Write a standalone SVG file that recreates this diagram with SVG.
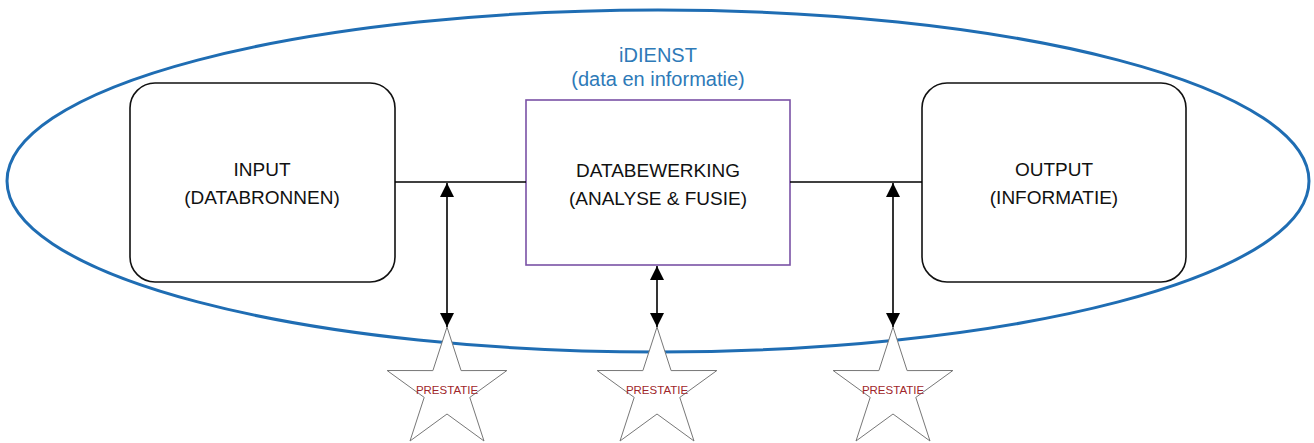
<svg xmlns="http://www.w3.org/2000/svg" width="1314" height="443" viewBox="0 0 1314 443">
<style>
.lbl{font-family:"Liberation Sans",Arial,sans-serif;font-size:19px;fill:#111;text-anchor:middle}
.blue{font-family:"Liberation Sans",Arial,sans-serif;font-size:20px;fill:#2e7ab8;text-anchor:middle}
.box{fill:#fff;stroke:#111;stroke-width:1.6}
.conn{stroke:#000;stroke-width:1.6;fill:none}
.star{fill:#fff;stroke:#777;stroke-width:1}
.perf{font-family:"Liberation Sans",Arial,sans-serif;font-size:11.5px;fill:#a0262a;text-anchor:middle}
</style>
<defs>
<marker id="ah" viewBox="0 0 10 10" refX="10" refY="5" markerWidth="14" markerHeight="14" markerUnits="userSpaceOnUse" orient="auto-start-reverse">
<path d="M0,0 L10,5 L0,10 z" fill="#000"/>
</marker>
<polygon id="starShape" points="0,-63 14.1,-19.4 59.9,-19.5 22.8,7.4 37,51 0,24 -37,51 -22.8,7.4 -59.9,-19.5 -14.1,-19.4"/>
</defs>
<rect width="1314" height="443" fill="#fff"/>
<g id="idienst">
<ellipse cx="658" cy="181" rx="651" ry="171" fill="none" stroke="#1f6db3" stroke-width="3"/>
<text class="blue" x="658" y="62">iDIENST</text>
<text class="blue" x="658" y="86">(data en informatie)</text>
</g>
<g id="input">
<rect class="box" x="130" y="83" width="265" height="199" rx="25"/>
<text class="lbl" x="262" y="176">INPUT</text>
<text class="lbl" x="262" y="204">(DATABRONNEN)</text>
</g>
<g id="databewerking">
<rect x="526" y="100" width="264" height="165" fill="#fff" stroke="#7a52a6" stroke-width="1.6"/>
<text class="lbl" x="658" y="177">DATABEWERKING</text>
<text class="lbl" x="658" y="205">(ANALYSE &amp; FUSIE)</text>
</g>
<g id="output">
<rect class="box" x="922" y="83" width="264" height="199" rx="25"/>
<text class="lbl" x="1054" y="176">OUTPUT</text>
<text class="lbl" x="1054" y="204">(INFORMATIE)</text>
</g>
<g id="star1">
<use href="#starShape" class="star" x="447" y="390"/>
<text class="perf" x="447" y="394">PRESTATIE</text>
</g>
<g id="star2">
<use href="#starShape" class="star" x="657" y="390"/>
<text class="perf" x="657" y="394">PRESTATIE</text>
</g>
<g id="star3">
<use href="#starShape" class="star" x="893" y="390"/>
<text class="perf" x="893" y="394">PRESTATIE</text>
</g>
<g id="connectors">
<line class="conn" x1="395" y1="182" x2="526" y2="182"/>
<line class="conn" x1="790" y1="182" x2="922" y2="182"/>
<line class="conn" x1="447" y1="183" x2="447" y2="327" marker-start="url(#ah)" marker-end="url(#ah)"/>
<line class="conn" x1="657" y1="266" x2="657" y2="327" marker-start="url(#ah)" marker-end="url(#ah)"/>
<line class="conn" x1="893" y1="183" x2="893" y2="327" marker-start="url(#ah)" marker-end="url(#ah)"/>
</g>
</svg>
